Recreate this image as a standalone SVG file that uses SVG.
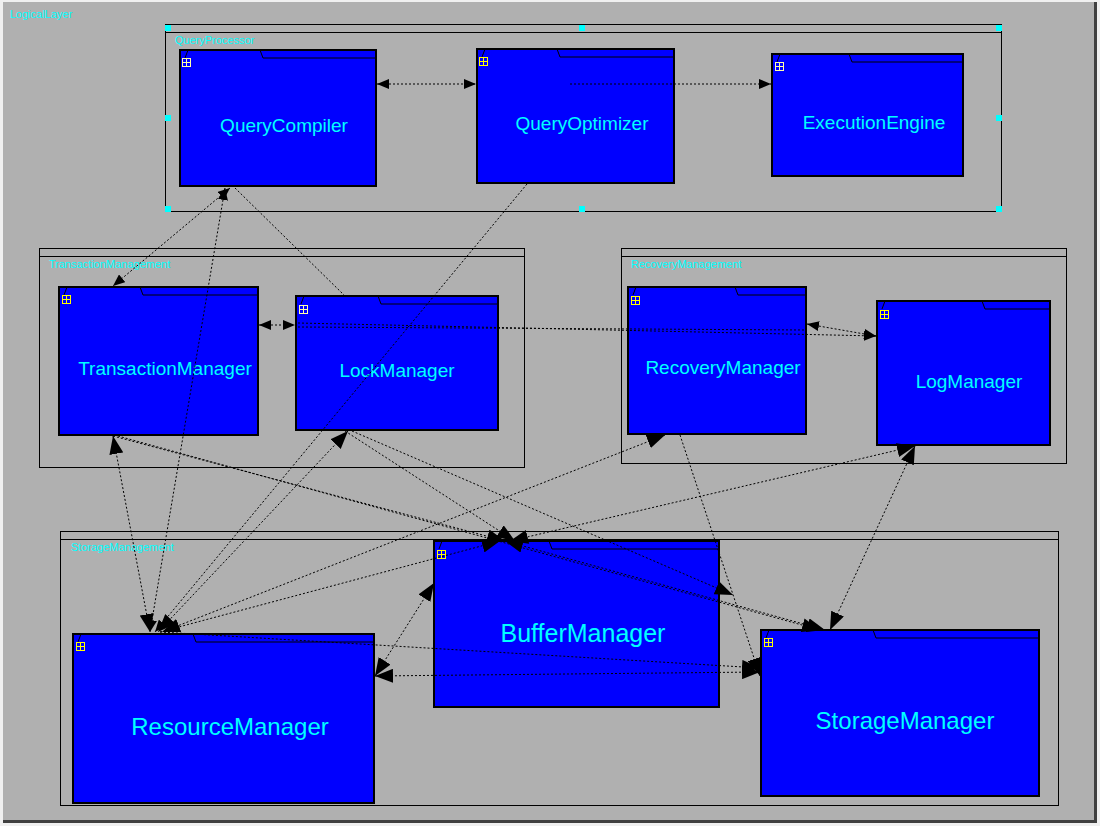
<svg xmlns="http://www.w3.org/2000/svg" width="1100" height="826" viewBox="0 0 1100 826">
<defs>
<style>
.pkg{fill:none;stroke:#000;stroke-width:1;shape-rendering:crispEdges}
.node{fill:#0000ff;stroke:#000;stroke-width:1.2;shape-rendering:crispEdges}
.tab{fill:none;stroke:#000;stroke-width:1}
.icon{fill:none;stroke:#ffff00;stroke-width:1;shape-rendering:crispEdges}
.iconw{fill:none;stroke:#ffffa8;stroke-width:1;shape-rendering:crispEdges}
.plbl{font-family:"Liberation Sans",Arial,sans-serif;font-size:11px;fill:#00ffff}
.nlbl{font-family:"Liberation Sans",Arial,sans-serif;font-size:19px;fill:#00ffff;text-anchor:middle}
.blbl{font-family:"Liberation Sans",Arial,sans-serif;font-size:24px;fill:#00ffff;text-anchor:middle}
.handle{fill:#00ffff}
.conn line{stroke:#000;stroke-width:1;stroke-dasharray:2,2;fill:none}
.both{marker-start:url(#ah);marker-end:url(#ah)}
.end{marker-end:url(#ah)}
.bend{marker-end:url(#ahb)}
.bboth{marker-start:url(#ahb);marker-end:url(#ahb)}
</style>
<marker id="ah" viewBox="0 0 12 10" refX="12" refY="5" markerWidth="12" markerHeight="10" markerUnits="userSpaceOnUse" orient="auto-start-reverse">
<path d="M0,0 L12,5 L0,10 z" fill="#000"/>
</marker>
<marker id="ahb" viewBox="0 0 18 14" refX="18" refY="7" markerWidth="18" markerHeight="14" markerUnits="userSpaceOnUse" orient="auto-start-reverse">
<path d="M0,0 L18,7 L0,14 z" fill="#000"/>
</marker>
</defs>
<rect x="0" y="0" width="1100" height="826" fill="#f0f0f0"/>
<rect x="3" y="2" width="1094" height="821" fill="#404040"/>
<rect x="3" y="2" width="1091" height="818" fill="#b0b0b0"/>
<text class="plbl" x="10" y="18">LogicalLayer</text>

<g id="QueryProcessor">
<rect class="pkg" x="165" y="24" width="836" height="187"/>
<line class="pkg" x1="165" y1="32" x2="1001" y2="32"/>
<text class="plbl" x="175" y="44">QueryProcessor</text>
<rect class="handle" x="165" y="25" width="6" height="6"/>
<rect class="handle" x="579" y="25" width="6" height="6"/>
<rect class="handle" x="996" y="25" width="6" height="6"/>
<rect class="handle" x="165" y="115" width="6" height="6"/>
<rect class="handle" x="996" y="115" width="6" height="6"/>
<rect class="handle" x="165" y="206" width="6" height="6"/>
<rect class="handle" x="579" y="206" width="6" height="6"/>
<rect class="handle" x="996" y="206" width="6" height="6"/>
</g>
<g id="TransactionManagement">
<rect class="pkg" x="39" y="248" width="485" height="219"/>
<line class="pkg" x1="39" y1="256" x2="524" y2="256"/>
<text class="plbl" x="49" y="268">TransactionManagement</text>
</g>
<g id="RecoveryManagement">
<rect class="pkg" x="621" y="248" width="445" height="215"/>
<line class="pkg" x1="621" y1="256" x2="1066" y2="256"/>
<text class="plbl" x="631" y="268">RecoveryManagement</text>
</g>
<g id="StorageManagement">
<rect class="pkg" x="60" y="531" width="998" height="274"/>
<line class="pkg" x1="60" y1="539" x2="1058" y2="539"/>
<text class="plbl" x="71" y="551">StorageManagement</text>
</g>

<g id="QueryCompiler">
<rect class="node" x="180" y="50" width="196" height="136"/>
<path class="tab" d="M188,50 L185,58 M260,50 L263,58 L376,58"/>
<path class="iconw" d="M182.5,58.5 h8 v8 h-8 z M186.5,58.5 v8 M182.5,62.5 h8"/>
<text class="nlbl" x="284" y="132">QueryCompiler</text>
</g>
<g id="QueryOptimizer">
<rect class="node" x="477" y="49" width="197" height="134"/>
<path class="tab" d="M485,49 L482,57 M557,49 L560,57 L674,57"/>
<path class="icon" d="M479.5,57.5 h8 v8 h-8 z M483.5,57.5 v8 M479.5,61.5 h8"/>
<text class="nlbl" x="582" y="130">QueryOptimizer</text>
</g>
<g id="ExecutionEngine">
<rect class="node" x="772" y="54" width="191" height="122"/>
<path class="tab" d="M780,54 L777,62 M849,54 L852,62 L963,62"/>
<path class="iconw" d="M775.5,62.5 h8 v8 h-8 z M779.5,62.5 v8 M775.5,66.5 h8"/>
<text class="nlbl" x="874" y="129">ExecutionEngine</text>
</g>
<g id="TransactionManager">
<rect class="node" x="59" y="287" width="199" height="148"/>
<path class="tab" d="M67,287 L64,295 M140,287 L143,295 L258,295"/>
<path class="icon" d="M62.5,295.5 h8 v8 h-8 z M66.5,295.5 v8 M62.5,299.5 h8"/>
<text class="nlbl" x="165" y="375">TransactionManager</text>
</g>
<g id="LockManager">
<rect class="node" x="296" y="296" width="202" height="134"/>
<path class="tab" d="M304,296 L301,304 M378,296 L381,304 L498,304"/>
<path class="iconw" d="M299.5,305.5 h8 v8 h-8 z M303.5,305.5 v8 M299.5,309.5 h8"/>
<text class="nlbl" x="397" y="377">LockManager</text>
</g>
<g id="RecoveryManager">
<rect class="node" x="628" y="287" width="178" height="147"/>
<path class="tab" d="M636,287 L633,295 M735,287 L738,295 L806,295"/>
<path class="icon" d="M631.5,296.5 h8 v8 h-8 z M635.5,296.5 v8 M631.5,300.5 h8"/>
<text class="nlbl" x="723" y="374">RecoveryManager</text>
</g>
<g id="LogManager">
<rect class="node" x="877" y="301" width="173" height="144"/>
<path class="tab" d="M885,301 L882,309 M982,301 L985,309 L1050,309"/>
<path class="icon" d="M880.5,310.5 h8 v8 h-8 z M884.5,310.5 v8 M880.5,314.5 h8"/>
<text class="nlbl" x="969" y="388">LogManager</text>
</g>
<g id="BufferManager">
<rect class="node" x="434" y="541" width="285" height="166"/>
<path class="tab" d="M442,541 L439,549 M549,541 L552,549 L719,549"/>
<path class="icon" d="M437.5,550.5 h8 v8 h-8 z M441.5,550.5 v8 M437.5,554.5 h8"/>
<text class="blbl" x="583" y="642" style="font-size:25px">BufferManager</text>
</g>
<g id="ResourceManager">
<rect class="node" x="73" y="634" width="301" height="169"/>
<path class="tab" d="M81,634 L78,642 M193,634 L196,642 L374,642"/>
<path class="icon" d="M76.5,642.5 h8 v8 h-8 z M80.5,642.5 v8 M76.5,646.5 h8"/>
<text class="blbl" x="230" y="735">ResourceManager</text>
</g>
<g id="StorageManager">
<rect class="node" x="761" y="630" width="278" height="166"/>
<path class="tab" d="M769,630 L766,638 M873,630 L876,638 L1039,638"/>
<path class="icon" d="M764.5,638.5 h8 v8 h-8 z M768.5,638.5 v8 M764.5,642.5 h8"/>
<text class="blbl" x="905" y="729">StorageManager</text>
</g>

<g id="connectors" class="conn">
<line class="both" x1="377" y1="84" x2="476" y2="84"/>
<line class="end" x1="570" y1="84" x2="771" y2="84"/>
<line class="both" x1="230" y1="188" x2="113" y2="286"/>
<line class="both" x1="225" y1="188" x2="150" y2="632"/>
<line x1="235" y1="188" x2="345" y2="296"/>
<line class="end" x1="527" y1="184" x2="155" y2="632"/>
<line class="both" x1="259" y1="325" x2="295" y2="325"/>
<line class="end" x1="298" y1="323" x2="876" y2="336"/>
<line x1="298" y1="327" x2="806" y2="330"/>
<line class="both" x1="807" y1="324" x2="876" y2="336"/>
<line class="bboth" x1="113" y1="436" x2="150" y2="632"/>
<line class="bend" x1="113" y1="436" x2="505" y2="541"/>
<line class="bend" x1="118" y1="436" x2="820" y2="630"/>
<line class="bboth" x1="348" y1="431" x2="158" y2="632"/>
<line class="bend" x1="352" y1="431" x2="733" y2="595"/>
<line class="bend" x1="345" y1="431" x2="515" y2="541"/>
<line class="bboth" x1="665" y1="435" x2="162" y2="632"/>
<line class="bend" x1="680" y1="435" x2="760" y2="676"/>
<line class="bboth" x1="915" y1="446" x2="510" y2="541"/>
<line class="bboth" x1="915" y1="446" x2="830" y2="630"/>
<line class="bboth" x1="434" y1="583" x2="375" y2="676"/>
<line class="bboth" x1="375" y1="676" x2="760" y2="672"/>
<line class="bboth" x1="505" y1="541" x2="825" y2="630"/>
<line class="bend" x1="160" y1="632" x2="500" y2="541"/>
<line class="bend" x1="160" y1="632" x2="760" y2="668"/>
</g>
</svg>
